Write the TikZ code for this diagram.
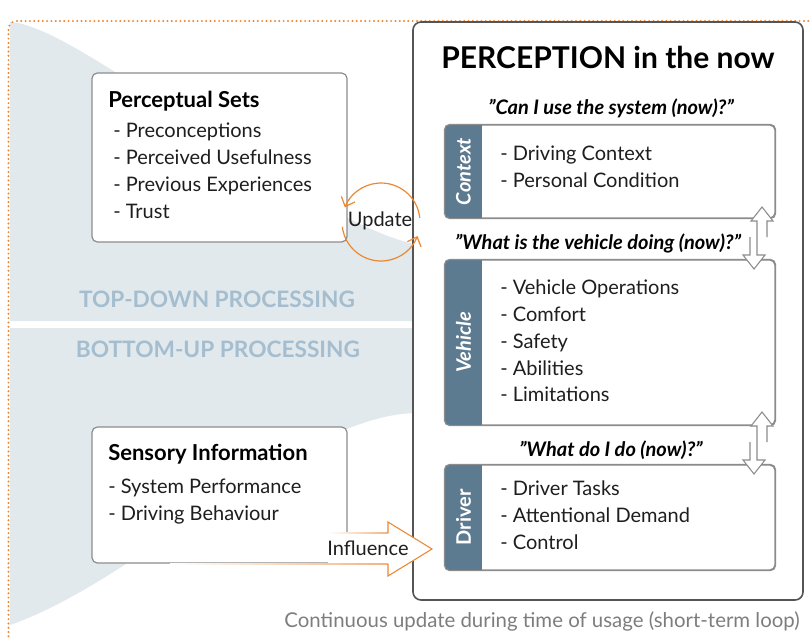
\documentclass[tikz,border=0pt]{standalone}
\usepackage{fontspec}
\setmainfont{Lato}
\usetikzlibrary{arrows.meta,calc,fit}
\definecolor{orangeC}{RGB}{236,135,50}
\definecolor{orangeL}{RGB}{242,180,130}
\definecolor{tabC}{RGB}{93,123,144}
\definecolor{bgC}{RGB}{226,233,237}
\definecolor{procC}{RGB}{164,190,208}
\definecolor{borderD}{RGB}{85,85,85}
\definecolor{borderL}{RGB}{140,140,140}
\definecolor{noteC}{RGB}{125,125,125}
\definecolor{textC}{RGB}{30,30,30}
\tikzset{
  box/.style={draw=borderL, line width=0.9pt, rounded corners=4pt, fill=white, inner sep=0pt},
  bigbox/.style={draw=borderD, line width=1.2pt, rounded corners=6pt, fill=white, inner sep=0pt},
  item/.style={anchor=base west, inner sep=0pt, text=textC, font=\fontsize{15}{18}\selectfont},
  head/.style={anchor=base west, inner sep=0pt, text=black, font=\fontsize{16.5}{19}\selectfont\bfseries},
  quest/.style={inner sep=0pt, text=black, font=\fontsize{15}{18}\selectfont\bfseries\itshape},
  tablabel/.style={rotate=90, inner sep=0pt, text=white, font=\fontsize{15}{17}\selectfont\bfseries},
  proc/.style={inner sep=0pt, text=procC, font=\fontsize{17}{20}\selectfont\bfseries},
  orangearr/.style={draw=orangeC, line width=0.9pt, -{Straight Barb[length=6pt,width=11pt]}},
  dotmark/.style={fill=orangeC},
  dbl/.style={draw=borderL, line width=0.8pt, fill=white, line join=miter},
  pics/dblarrow/.style={code={
    \path[dbl] (5,30) -- (5,14) -- (11,14) -- (0,0) -- (-11,14) -- (-5,14) -- (-5,48)
      -- (3,48) -- (-8,62) -- (-19,48) -- (-12,48) -- (-12,30);
  }}
}
\begin{document}
\begin{tikzpicture}[x=0.75pt,y=-0.75pt]
\useasboundingbox (0,0) rectangle (812,640);
% background processing regions
\fill[bgC] (10,22) .. controls (80,25) and (300,220) .. (418,245) -- (418,321) -- (10,321) -- cycle;
\fill[bgC] (10,328) -- (418,328) -- (418,413) .. controls (300,413) and (140,580) .. (10,625) -- cycle;
% dotted orange border
\foreach \xx in {17,21.3,...,812} \fill[dotmark] (\xx,21) circle[radius=1.1];
\foreach \yy in {30,34.3,...,640} \fill[dotmark] (8.5,\yy) circle[radius=1.1];
\fill[dotmark] (9.3,25.6) circle[radius=1.1];
\fill[dotmark] (12.4,22.2) circle[radius=1.1];
% processing labels
\node[proc] (td) at (217,299) {TOP-DOWN PROCESSING};
\node[proc] (bu) at (218,349) {BOTTOM-UP PROCESSING};
% perceptual sets
\node[box, fit={(92,73) (347,242)}] (ps) {};
\node[head] (psh) at (108,107) {Perceptual Sets};
\node[item] (ps1) at (113,137) {- Preconceptions};
\node[item] (ps2) at (113,164) {- Perceived Usefulness};
\node[item] (ps3) at (113,191) {- Previous Experiences};
\node[item] (ps4) at (113,218) {- Trust};
% sensory information
\node[box, fit={(92,427) (347,563)}] (si) {};
\node[head] (sih) at (108,460) {Sensory Information};
\node[item] (si1) at (108,493) {- System Performance};
\node[item] (si2) at (108,520) {- Driving Behaviour};
% big perception box
\node[bigbox, fit={(413,22) (803,600)}] (perc) {};
\node[inner sep=0pt, font=\fontsize{22.5}{26}\selectfont\bfseries] (title) at (608,57) {PERCEPTION in the now};
% context
\node[quest] (q1) at (611,108) {”Can I use the system (now)?”};
\node[box, fit={(445,125) (775,218)}] (ctx) {};
\begin{scope}
  \clip[rounded corners=4pt] (ctx.south west) rectangle (ctx.north east);
  \fill[tabC] (ctx.south west) rectangle ($(ctx.north west)+(38,0)$);
\end{scope}
\draw[borderL, line width=0.9pt, rounded corners=4pt] (ctx.south west) rectangle (ctx.north east);
\node[tablabel, font=\fontsize{15}{17}\selectfont\bfseries\itshape] (ctxl) at ($(ctx.west)+(19,0)$) {Context};
\node[item] (c1) at (500,160) {- Driving Context};
\node[item] (c2) at (500,187) {- Personal Condition};
% vehicle
\node[quest] (q2) at (598,243) {”What is the vehicle doing (now)?”};
\node[box, fit={(445,260) (775,425)}] (veh) {};
\begin{scope}
  \clip[rounded corners=4pt] (veh.south west) rectangle (veh.north east);
  \fill[tabC] (veh.south west) rectangle ($(veh.north west)+(38,0)$);
\end{scope}
\draw[borderL, line width=0.9pt, rounded corners=4pt] (veh.south west) rectangle (veh.north east);
\node[tablabel, font=\fontsize{15}{17}\selectfont\bfseries\itshape] (vehl) at ($(veh.west)+(19,0)$) {Vehicle};
\node[item] (v1) at (500,294) {- Vehicle Operations};
\node[item] (v2) at (500,321) {- Comfort};
\node[item] (v3) at (500,348) {- Safety};
\node[item] (v4) at (500,375) {- Abilities};
\node[item] (v5) at (500,401) {- Limitations};
% driver
\node[quest] (q3) at (611,450) {”What do I do (now)?”};
\node[box, fit={(445,465) (775,570)}] (drv) {};
\begin{scope}
  \clip[rounded corners=4pt] (drv.south west) rectangle (drv.north east);
  \fill[tabC] (drv.south west) rectangle ($(drv.north west)+(38,0)$);
\end{scope}
\draw[borderL, line width=0.9pt, rounded corners=4pt] (drv.south west) rectangle (drv.north east);
\node[tablabel] (drvl) at ($(drv.west)+(19,0)$) {Driver};
\node[item] (d1) at (500,495) {- Driver Tasks};
\node[item] (d2) at (500,522) {- Attentional Demand};
\node[item] (d3) at (500,549) {- Control};
% double arrows between boxes
\pic at (762,207) {dblarrow};
\pic at (762,412) {dblarrow};
% update loop
\coordinate (uc) at (381,222);
\draw[orangearr] ($(uc)+(-6:39)$) arc[start angle=-6, end angle=-158, radius=39];
\draw[orangearr] ($(uc)+(173:39)$) arc[start angle=173, end angle=21, radius=39];
\node[inner sep=0pt, text=textC, font=\fontsize{15}{18}\selectfont] (upd) at (380,221) {Update};
% influence arrow
\coordinate (ia) at (328,533);
\coordinate (tip) at (432,549);
\fill[white] (ia) -- (388,533) -- (388,522) -- (tip) -- (388,576) -- (388,564) -- (328,564) -- cycle;
\shade[left color=white, right color=orangeL] (328,532.4) rectangle (388,533.6);
\shade[left color=white, right color=orangeL] (170,563.4) rectangle (388,564.6);
\draw[orangeC, line width=0.8pt, line join=miter] (388,533) -- (388,522) -- (tip) -- (388,576) -- (388,564);
\node[inner sep=0pt, text=textC, font=\fontsize{15}{18}\selectfont] (infl) at (368,548) {Influence};
% note
\node[inner sep=0pt, text=noteC, font=\fontsize{15.3}{18}\selectfont] (note) at (542,621) {Continuous update during time of usage (short-term loop)};
\end{tikzpicture}
\end{document}
